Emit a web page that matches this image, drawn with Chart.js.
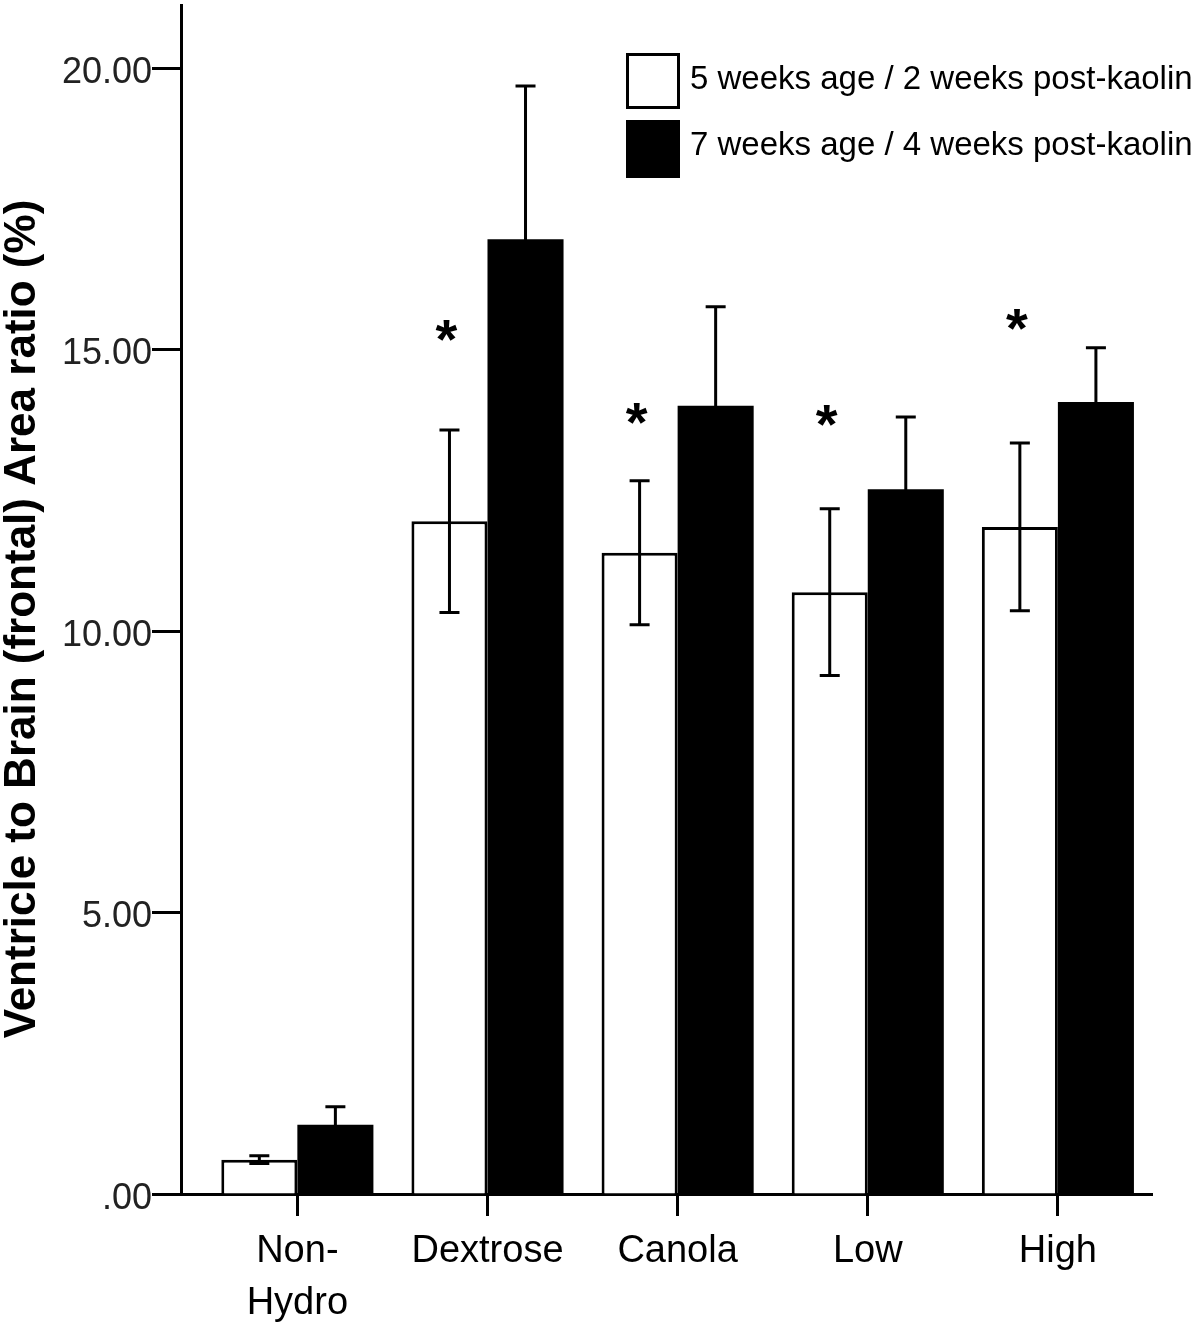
<!DOCTYPE html>
<html>
<head>
<meta charset="utf-8">
<script src="https://cdn.jsdelivr.net/npm/chart.js@4.4.0/dist/chart.umd.min.js"></script>
<style>
  html, body { margin: 0; padding: 0; background: #fff; }
  #wrap { width: 1200px; height: 1327px; position: relative; }
</style>
</head>
<body>
<div id="wrap"><canvas id="ventricleChart"></canvas></div>
<script>
// groups on the x axis
const categories = [['Non-', 'Hydro'], 'Dextrose', 'Canola', 'Low', 'High'];
const seriesLabels = ['5 weeks age / 2 weeks post-kaolin', '7 weeks age / 4 weeks post-kaolin'];

// means and error (one side)
const week5Means = [0.61, 11.95, 11.39, 10.69, 11.85];
const week5Errors = [0.07, 1.62, 1.28, 1.48, 1.49];
const week7Means = [1.23, 16.96, 14.00, 12.52, 14.07];
const week7Errors = [0.32, 2.72, 1.76, 1.28, 0.96];

// where the significance stars sit (y value), null = no star
const starLevels = [null, 15.4, 13.93, 13.89, 15.6];

const yTicks = [0, 5, 10, 15, 20];
const yTickLabels = ['.00', '5.00', '10.00', '15.00', '20.00'];
const yTitle = 'Ventricle to Brain (frontal) Area ratio (%)';

const FONT = '"Liberation Sans", Arial, sans-serif';

const errorBars = {
    id: 'errorBars',
    afterDatasetsDraw(chart) {
        const ctx = chart.ctx;
        const y = chart.scales.y;
        chart.data.datasets.forEach((ds, di) => {
            const meta = chart.getDatasetMeta(di);
            meta.data.forEach((bar, i) => {
                const mean = ds.data[i].y;
                const err = ds.errors[i];
                const top = y.getPixelForValue(mean + err);
                const bot = y.getPixelForValue(mean - err);
                ctx.save();
                ctx.strokeStyle = '#000';
                ctx.lineWidth = 3;
                ctx.beginPath();
                ctx.moveTo(bar.x, top); ctx.lineTo(bar.x, bot);
                ctx.moveTo(bar.x - 10, top); ctx.lineTo(bar.x + 10, top);
                ctx.moveTo(bar.x - 10, bot); ctx.lineTo(bar.x + 10, bot);
                ctx.stroke();
                ctx.restore();
            });
        });
        // stars over the 5-week bars
        const meta0 = chart.getDatasetMeta(0);
        ctx.save();
        ctx.fillStyle = '#000';
        ctx.font = 'bold 56px ' + FONT;
        ctx.textAlign = 'center';
        ctx.textBaseline = 'alphabetic';
        starLevels.forEach((lvl, i) => {
            if (lvl === null) return;
            ctx.fillText('*', meta0.data[i].x - 3, y.getPixelForValue(lvl) + 31);
        });
        ctx.restore();
    }
};

const sideLegend = {
    id: 'sideLegend',
    afterDraw(chart) {
        const ctx = chart.ctx;
        ctx.save();
        chart.data.datasets.forEach((ds, i) => {
            const top = i === 0 ? 53 : 120;
            const h = i === 0 ? 56 : 58;
            ctx.fillStyle = ds.backgroundColor;
            ctx.fillRect(626, top, 54, h);
            if (i === 0) {
                ctx.strokeStyle = '#000';
                ctx.lineWidth = 3;
                ctx.strokeRect(627.5, top + 1.5, 51, h - 3);
            }
            ctx.fillStyle = '#000';
            ctx.font = '33px ' + FONT;
            ctx.textAlign = 'left';
            ctx.textBaseline = 'middle';
            ctx.fillText(ds.label, 690, i === 0 ? 80 : 146);
        });
        // rotated y title
        ctx.translate(35, 619);
        ctx.rotate(-Math.PI / 2);
        ctx.font = 'bold 44px ' + FONT;
        ctx.textAlign = 'center';
        ctx.textBaseline = 'alphabetic';
        ctx.fillStyle = '#000';
        ctx.fillText(yTitle, 0, 0);
        ctx.restore();
    }
};

const noPad = s => { s.paddingTop = 0; s.paddingBottom = 0; s.paddingLeft = 0; s.paddingRight = 0; };

const ctx = document.getElementById('ventricleChart').getContext('2d');
new Chart(ctx, {
    type: 'bar',
    data: {
        datasets: [
            {
                label: seriesLabels[0],
                data: week5Means.map((v, i) => ({ x: i, y: v })),
                errors: week5Errors,
                backgroundColor: '#ffffff',
                borderColor: '#000000',
                borderWidth: 3
            },
            {
                label: seriesLabels[1],
                data: week7Means.map((v, i) => ({ x: i, y: v })),
                errors: week7Errors,
                backgroundColor: '#000000',
                borderWidth: 0
            }
        ]
    },
    options: {
        responsive: true,
        maintainAspectRatio: false,
        animation: false,
        layout: { padding: { top: 5, right: 48, left: 0, bottom: 0 } },
        datasets: { bar: { categoryPercentage: 0.8, barPercentage: 1.0 } },
        scales: {
            x: {
                type: 'linear',
                offset: false,
                min: -0.612,
                max: 4.495,
                afterBuildTicks: s => { s.ticks = categories.map((c, i) => ({ value: i })); },
                afterFit: s => { s.height = 133; noPad(s); },
                border: { display: true, color: '#000', width: 3 },
                grid: { offset: false, drawOnChartArea: false, color: '#000', tickLength: 22, tickWidth: 3 },
                ticks: {
                    color: '#000',
                    padding: 9,
                    maxRotation: 0,
                    autoSkip: false,
                    font: { family: FONT, size: 38, lineHeight: 1.37 },
                    callback: v => categories[v]
                }
            },
            y: {
                min: 0,
                max: 21.12,
                afterBuildTicks: s => { s.ticks = yTicks.map(v => ({ value: v })); },
                afterFit: s => { s.width = 181; noPad(s); },
                border: { display: true, color: '#000', width: 3 },
                grid: { drawOnChartArea: false, color: '#000', tickLength: 29, tickWidth: 3 },
                ticks: {
                    color: '#222',
                    padding: 0,
                    labelOffset: 5,
                    font: { family: FONT, size: 36 },
                    callback: v => yTickLabels[yTicks.indexOf(v)]
                }
            }
        },
        plugins: {
            legend: { display: false },
            tooltip: { enabled: false }
        }
    },
    plugins: [errorBars, sideLegend]
});
</script>
</body>
</html>
